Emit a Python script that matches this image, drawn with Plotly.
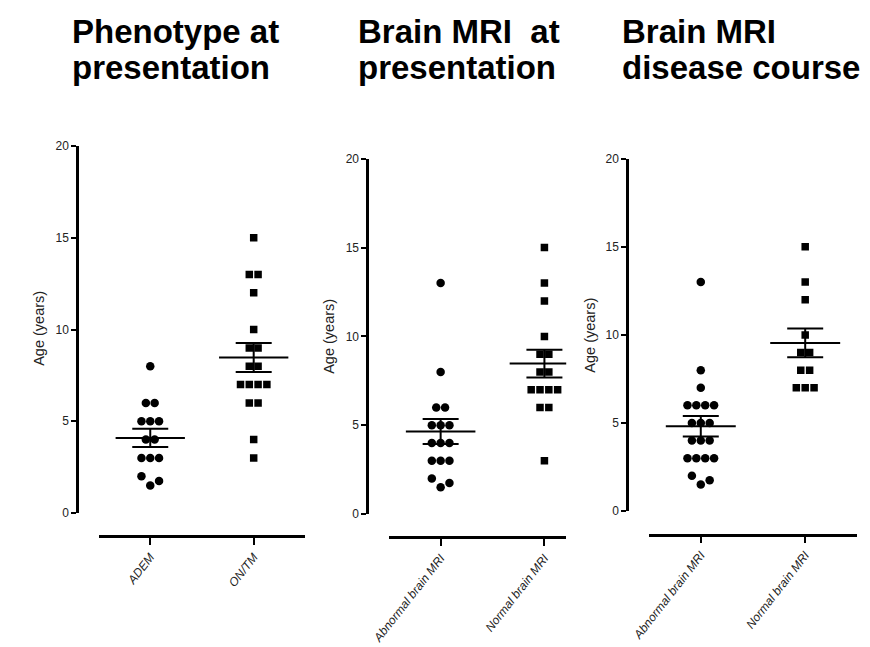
import numpy as np
import plotly.graph_objects as go

# ---------------- data ----------------
title_lines_1 = ["Phenotype at", "presentation"]
title_lines_2 = ["Brain MRI&nbsp; at", "presentation"]
title_lines_3 = ["Brain MRI", "disease course"]

categories_1 = ["ADEM", "ON/TM"]
categories_2 = ["Abnormal brain MRI", "Normal brain MRI"]
categories_3 = ["Abnormal brain MRI", "Normal brain MRI"]

age_adem = [8, 6, 6, 5, 5, 5, 4, 4, 3, 3, 3, 2, 1.5, 1.75]
age_ontm = [15, 13, 13, 12, 10, 9, 9, 8, 8, 7, 7, 7, 7, 6, 6, 4, 3]

age_abn_pres = [13, 8, 6, 6, 5, 5, 5, 4, 4, 4, 3, 3, 3, 2, 1.5, 1.75]
age_norm_pres = [15, 13, 12, 10, 9, 9, 8, 8, 7, 7, 7, 7, 6, 6, 3]

age_abn_course = [13, 8, 7, 6, 6, 6, 6, 5, 5, 5, 4, 4, 4, 3, 3, 3, 3, 2, 1.5, 1.75]
age_norm_course = [15, 13, 12, 10, 9, 9, 8, 8, 7, 7, 7]

y_ticks = [0, 5, 10, 15, 20]
y_title = "Age (years)"

# ---------------- helpers ----------------
W, H = 870, 647
OFF = 8  # page offset of the figure (body margin)
DOT_STEP = 0.085  # horizontal spacing between neighbouring points (data units)


def px_x(x):
    return (x - OFF) / W


def px_y(y):
    return 1 - (y - OFF) / H


def swarm_offsets(values, tol=0.6):
    """Group close values into rows and spread each row symmetrically."""
    vals = np.asarray(values, dtype=float)
    order = np.argsort(vals, kind="stable")
    clusters, cur = [], [order[0]]
    for a, b in zip(order[:-1], order[1:]):
        if vals[b] - vals[a] < tol:
            cur.append(b)
        else:
            clusters.append(cur)
            cur = [b]
    clusters.append(cur)
    offs = np.zeros(len(vals))
    for cl in clusters:
        cl = sorted(cl)  # keep list order within a row
        n = len(cl)
        for k, idx in enumerate(cl):
            offs[idx] = (k - (n - 1) / 2) * DOT_STEP
    return offs


fig = go.Figure()

panels = [
    dict(groups=[age_adem, age_ontm], cats=categories_1, title=title_lines_1,
         x0=83, x1=294, xr=[0.5, 2.5], xline=541,
         ybot=517, ytop=142, yline=61, ytx=22, yty=328, tx=55),
    dict(groups=[age_abn_pres, age_norm_pres], cats=categories_2, title=title_lines_2,
         x0=379, x1=560, xr=[0.5, 2.21], xline=542,
         ybot=518, ytop=155, yline=357, ytx=318, yty=336, tx=347),
    dict(groups=[age_abn_course, age_norm_course], cats=categories_3, title=title_lines_3,
         x0=644, x1=857, xr=[0.5, 2.5], xline=539,
         ybot=515, ytop=155, yline=622, ytx=584, yty=335, tx=616),
]

symbols = ["circle", "square"]
sizes = [8.5, 7.5]
layout_axes = {}
annotations = []
FONT = "Liberation Sans, Arial, sans-serif"

for p_i, p in enumerate(panels, start=1):
    xa = "x" if p_i == 1 else f"x{p_i}"
    ya = "y" if p_i == 1 else f"y{p_i}"
    for g_i, vals in enumerate(p["groups"]):
        cx = g_i + 1
        arr = np.asarray(vals, dtype=float)
        xs = cx + swarm_offsets(arr)
        fig.add_trace(go.Scatter(
            x=xs, y=arr, mode="markers", xaxis=xa, yaxis=ya,
            marker=dict(symbol=symbols[g_i], size=sizes[g_i], color="black",
                        line=dict(width=0)),
            showlegend=False, hoverinfo="y"))
        mean = arr.mean()
        sem = arr.std(ddof=1) / np.sqrt(len(arr))
        fig.add_trace(go.Scatter(
            x=[cx - 0.335, cx + 0.335], y=[mean, mean], mode="lines",
            xaxis=xa, yaxis=ya, line=dict(color="black", width=2),
            showlegend=False, hoverinfo="skip"))
        fig.add_trace(go.Scatter(
            x=[cx], y=[mean], mode="markers", xaxis=xa, yaxis=ya,
            marker=dict(size=1, opacity=0),
            error_y=dict(type="data", array=[sem], visible=True,
                         width=18, thickness=2, color="black"),
            showlegend=False, hoverinfo="skip"))

    layout_axes["xaxis" if p_i == 1 else f"xaxis{p_i}"] = dict(
        domain=[px_x(p["x0"]), px_x(p["x1"])], range=p["xr"],
        anchor="free", position=px_y(p["xline"]),
        tickmode="array", tickvals=[1, 2],
        ticktext=[f"<i>{c}</i>" for c in p["cats"]],
        tickangle=-52, ticks="outside", ticklen=7, tickwidth=2, tickcolor="black",
        showline=True, linewidth=2.5, linecolor="black",
        showgrid=False, zeroline=False,
        tickfont=dict(family=FONT, size=12, color="#222"))
    layout_axes["yaxis" if p_i == 1 else f"yaxis{p_i}"] = dict(
        domain=[px_y(p["ybot"]), px_y(p["ytop"])], range=[0, 20],
        anchor="free", position=px_x(p["yline"]),
        tickmode="array", tickvals=y_ticks, ticks="outside", ticklen=5,
        tickwidth=2, tickcolor="black",
        showline=True, linewidth=2.5, linecolor="black",
        showgrid=False, zeroline=False,
        tickfont=dict(family=FONT, size=12, color="#222"))

    annotations.append(dict(
        text=y_title, textangle=-90, xref="paper", yref="paper",
        x=px_x(p["ytx"]), y=px_y(p["yty"]), showarrow=False,
        xanchor="center", yanchor="middle",
        font=dict(family=FONT, size=14.5, color="#222")))
    for l_i, line in enumerate(p["title"]):
        annotations.append(dict(
            text=f"<b>{line}</b>", xref="paper", yref="paper",
            x=px_x(p["tx"] - 1), y=px_y(25 + 37 * l_i), showarrow=False,
            xanchor="left", yanchor="middle",
            font=dict(family=FONT, size=33, color="black")))

fig.update_layout(
    width=W, height=H,
    margin=dict(l=0, r=0, t=0, b=0),
    paper_bgcolor="white", plot_bgcolor="white",
    annotations=annotations,
    **layout_axes)

fig.write_html("out.html")
